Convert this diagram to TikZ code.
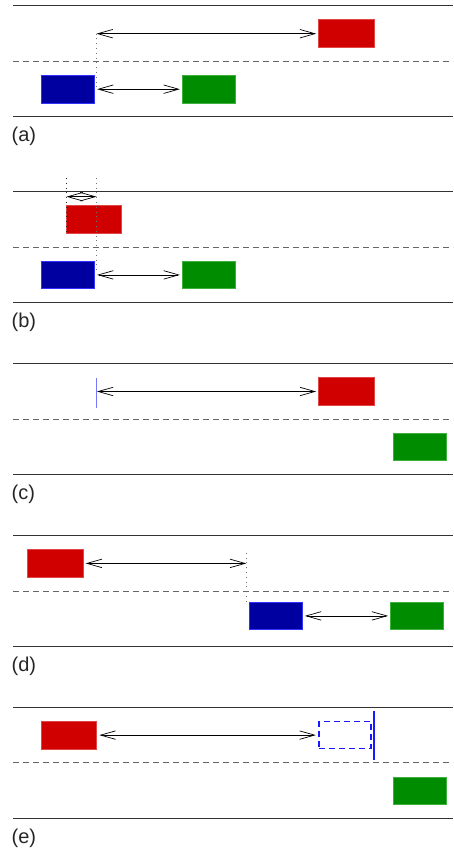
\documentclass[tikz,border=0pt]{standalone}
\usepackage{fontspec}
\setmainfont{Liberation Sans}
\usetikzlibrary{arrows.meta}
\definecolor{cred}{RGB}{208,0,0}
\definecolor{credb}{RGB}{225,70,70}
\definecolor{cblue}{RGB}{0,0,160}
\definecolor{cblueb}{RGB}{50,50,255}
\definecolor{cgreen}{RGB}{0,140,0}
\definecolor{cgreenb}{RGB}{60,175,60}
\definecolor{cmark}{RGB}{120,120,255}
\definecolor{cdash}{RGB}{25,25,255}
\begin{document}
\begin{tikzpicture}[x=1pt,y=-1pt,
  rule/.style={line width=0.8pt, black!80},
  mid/.style={line width=0.8pt, black!60, dash pattern=on 6pt off 4pt},
  box/.style={draw, line width=0.8pt, minimum height=27.7pt, inner sep=0pt, outer sep=2.5pt, anchor=center},
  redbox/.style={box, fill=cred, draw=credb, minimum width=55.7pt},
  bluebox/.style={box, fill=cblue, draw=cblueb, minimum width=53.2pt},
  greenbox/.style={box, fill=cgreen, draw=cgreenb, minimum width=53.2pt},
  ghostbox/.style={draw=cdash, line width=1.5pt, dash pattern=on 6pt off 4pt, minimum width=51.9pt, minimum height=26.8pt, inner sep=0pt, outer sep=3.2pt, anchor=center},
  dbl/.style={{Straight Barb[length=15pt,width=8.5pt]}-{Straight Barb[length=15pt,width=8.5pt]}, line width=0.7pt},
  guide/.style={black!55, line width=0.8pt, dash pattern=on 0.8pt off 4pt},
  lab/.style={anchor=base west, inner sep=0pt, font=\fontsize{20}{24}\selectfont, text=black!85}
]
\useasboundingbox (0,0) rectangle (453,851);

% ---------- (a)
\begin{scope}[shift={(0,5.7)}]
  \draw[rule] (13,0) -- (453,0);
  \draw[mid] (13,55.3) -- (453,55.3);
  \draw[rule] (13,110.8) -- (453,110.8);
  \node[redbox] (ra) at (346.5,28.0) {};
  \node[bluebox] (ba) at (68,83.5) {};
  \node[greenbox] (ga) at (209,83.5) {};
  \coordinate (pa) at (96.5,28.0);
  \coordinate (pa2) at (96.5,82.5);
  \draw[guide] (pa) -- (pa2);
  \draw[dbl] (pa) -- (ra);
  \draw[dbl] (ba) -- (ga);
  \node[lab] (la) at (11.5,136) {(a)};
\end{scope}

% ---------- (b)
\begin{scope}[shift={(0,191.7)}]
  \draw[rule] (13,0) -- (453,0);
  \draw[mid] (13,55.3) -- (453,55.3);
  \draw[rule] (13,110.6) -- (453,110.6);
  \node[redbox] (rb) at (94,27.5) {};
  \node[bluebox] (bb) at (68,83.2) {};
  \node[greenbox] (gb) at (209,83.2) {};
  \coordinate (bl) at (66.5,-13.7);
  \coordinate (br) at (96.5,-13.7);
  \coordinate (bl2) at (66.5,39.5);
  \coordinate (br2) at (96.5,81.5);
  \draw[guide, black!85] (bl) -- (bl2);
  \draw[guide] (br) -- (br2);
  \coordinate (bs1) at (66.5,5);
  \coordinate (bs2) at (96.5,5);
  \draw[dbl] (bs1) -- (bs2);
  \draw[dbl] (bb) -- (gb);
  \node[lab] (lb) at (11.5,135.7) {(b)};
\end{scope}

% ---------- (c)
\begin{scope}[shift={(0,363.3)}]
  \draw[rule] (13,0) -- (453,0);
  \draw[mid] (13,55.6) -- (453,55.6);
  \draw[rule] (13,111.0) -- (453,111.0);
  \node[redbox] (rc) at (346.5,28.2) {};
  \node[greenbox] (gc) at (420,83.6) {};
  \coordinate (mc1) at (96.3,14.4);
  \coordinate (mc2) at (96.3,44.4);
  \draw[cmark, line width=1.3pt] (mc1) -- (mc2);
  \coordinate (pc) at (96.9,28.2);
  \draw[dbl] (pc) -- (rc);
  \node[lab] (lc) at (11.5,136) {(c)};
\end{scope}

% ---------- (d)
\begin{scope}[shift={(0,535.7)}]
  \draw[rule] (13,0) -- (453,0);
  \draw[mid] (13,55.3) -- (453,55.3);
  \draw[rule] (13,110.6) -- (453,110.6);
  \node[redbox] (rd) at (55.3,27.7) {};
  \node[bluebox] (bd) at (275.8,80.2) {};
  \node[greenbox] (gd) at (417.2,80.2) {};
  \coordinate (pd) at (246.3,27.7);
  \coordinate (pd1) at (246.3,17);
  \coordinate (pd2) at (246.3,66.5);
  \draw[guide] (pd1) -- (pd2);
  \draw[dbl] (rd) -- (pd);
  \draw[dbl] (bd) -- (gd);
  \node[lab] (ld) at (11.5,136) {(d)};
\end{scope}

% ---------- (e)
\begin{scope}[shift={(0,707.3)}]
  \draw[rule] (13,0) -- (453,0);
  \draw[mid] (13,55.2) -- (453,55.2);
  \draw[rule] (13,110.7) -- (453,110.7);
  \node[redbox] (re) at (69,27.8) {};
  \node[ghostbox] (de) at (345,27.8) {};
  \coordinate (me1) at (374,3.4);
  \coordinate (me2) at (374,52.7);
  \draw[cdash, line width=1.6pt] (me1) -- (me2);
  \node[greenbox] (ge) at (420,83.6) {};
  \draw[dbl] (re) -- (de);
  \node[lab] (le) at (11.5,136) {(e)};
\end{scope}
\end{tikzpicture}
\end{document}
